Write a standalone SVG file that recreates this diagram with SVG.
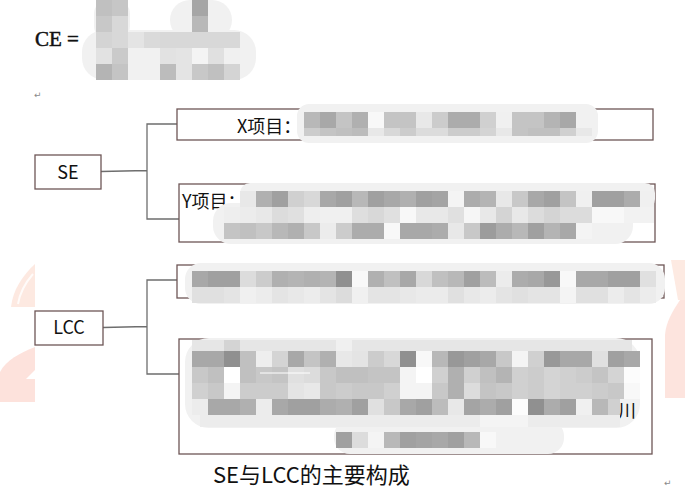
<svg xmlns="http://www.w3.org/2000/svg" width="685" height="491" viewBox="0 0 685 491">
<style>
.box{fill:#fff;stroke:#6e5656;stroke-width:1.3}
.conn{fill:none;stroke:#6e6e6e;stroke-width:1.3}
.lbl{font-family:"Noto Sans CJK SC","Noto Sans",sans-serif;font-size:18px;fill:#111}
.blob{fill:#f1f1f1}
.ret{font-family:"DejaVu Sans",sans-serif;font-size:9px;fill:#8a8a8a}
</style>
<rect width="685" height="491" fill="#fff"/>
<g id="watermark">
<path d="M11 307 C13 290 22 276 35 264 L35 307 Z" fill="#fde9e1"/>
<path d="M18 304 C20 292 26 282 33 274" fill="none" stroke="#fff" stroke-width="2" opacity="0.8"/>
<path d="M0 372 C6 360 20 353 35 347 L35 402 L0 402 Z" fill="#fde2dc"/>
<path d="M26 379 L35 370 L35 379 Z" fill="#fff"/>
<path d="M671 260 L685 260 L685 300 L678 300 Z" fill="#fdeae2"/>
<path d="M680 300 C672 312 666 322 665 335 L665 398 L685 398 L685 300 Z" fill="#fde4de"/>
</g>
<g id="ce-formula">
<text x="35" y="46" font-family="Liberation Serif,serif" font-size="21" fill="#111" stroke="#111" stroke-width="0.5">CE =</text>
<g id="ce-mosaic">
<rect class="blob" x="82" y="30" width="174" height="50" rx="22"/>
<rect class="blob" x="94" y="0" width="36" height="40" rx="14"/>
<rect class="blob" x="170" y="0" width="62" height="40" rx="20"/>
<rect x="96" y="0" width="16" height="16" fill="#c0c0c0"/><rect x="112" y="0" width="16" height="16" fill="#c6c6c6"/><rect x="192" y="0" width="16" height="16" fill="#a6a6a6"/>
<rect x="96" y="16" width="16" height="16" fill="#c8c8c8"/><rect x="112" y="16" width="16" height="16" fill="#d8d8d8"/><rect x="192" y="16" width="16" height="16" fill="#b8b8b8"/>
<rect x="96" y="32" width="16" height="16" fill="#d4d4d4"/><rect x="112" y="32" width="16" height="16" fill="#d8d8d8"/><rect x="128" y="32" width="16" height="16" fill="#e4e4e4"/><rect x="144" y="32" width="16" height="16" fill="#dadada"/><rect x="160" y="32" width="80" height="16" fill="#d8d8d8"/>
<rect x="96" y="48" width="16" height="16" fill="#e2e2e2"/><rect x="112" y="48" width="16" height="16" fill="#cacaca"/><rect x="160" y="48" width="16" height="16" fill="#e2e2e2"/><rect x="176" y="48" width="16" height="16" fill="#e4e4e4"/><rect x="192" y="48" width="16" height="16" fill="#f4f4f4"/><rect x="208" y="48" width="16" height="16" fill="#e0e0e0"/><rect x="224" y="48" width="16" height="16" fill="#f0f0f0"/>
<rect x="96" y="64" width="16" height="16" fill="#b4b4b4"/><rect x="112" y="64" width="16" height="16" fill="#c4c4c4"/><rect x="160" y="64" width="16" height="16" fill="#bcbcbc"/><rect x="176" y="64" width="16" height="16" fill="#e4e4e4"/><rect x="192" y="64" width="16" height="16" fill="#c8c8c8"/><rect x="208" y="64" width="16" height="16" fill="#c0c0c0"/><rect x="224" y="64" width="16" height="16" fill="#d4d4d4"/>
</g>
<text class="ret" x="34" y="98">↵</text>
</g>
<g id="connectors">
<path class="conn" d="M101 171.5 L147 170.5 M177 124 H147 V219 H179"/>
<path class="conn" d="M103 327.5 L147 326.5 M177 280 H147 V374 H179"/>
</g>
<g id="node-se">
<rect class="box" x="35" y="155" width="66" height="34"/>
<text class="lbl" x="68" y="179" text-anchor="middle">SE</text>
</g>
<g id="node-x">
<rect class="box" x="177" y="109" width="476" height="31"/>
<text class="lbl" x="237" y="133">X项目：</text>
<rect class="blob" x="297" y="104" width="301" height="39" rx="12"/>
<rect x="304" y="112" width="16" height="16" fill="#b8b8b8"/><rect x="320" y="112" width="16" height="16" fill="#a8a8a8"/><rect x="336" y="112" width="16" height="16" fill="#c4c4c4"/><rect x="352" y="112" width="16" height="16" fill="#b0b0b0"/><rect x="368" y="112" width="16" height="16" fill="#f8f8f8"/><rect x="384" y="112" width="32" height="16" fill="#c4c4c4"/><rect x="416" y="112" width="16" height="16" fill="#e8e8e8"/><rect x="432" y="112" width="16" height="16" fill="#cccccc"/><rect x="448" y="112" width="32" height="16" fill="#acacac"/><rect x="480" y="112" width="16" height="16" fill="#d0d0d0"/><rect x="496" y="112" width="16" height="16" fill="#f0f0f0"/><rect x="512" y="112" width="32" height="16" fill="#c4c4c4"/><rect x="544" y="112" width="16" height="16" fill="#b4b4b4"/><rect x="560" y="112" width="16" height="16" fill="#a8a8a8"/>
<rect x="304" y="128" width="16" height="8" fill="#cccccc"/><rect x="320" y="128" width="16" height="8" fill="#c4c4c4"/><rect x="336" y="128" width="16" height="8" fill="#c0c0c0"/><rect x="352" y="128" width="16" height="8" fill="#bcbcbc"/><rect x="368" y="128" width="16" height="8" fill="#e8e8e8"/><rect x="384" y="128" width="16" height="8" fill="#d8d8d8"/><rect x="400" y="128" width="16" height="8" fill="#cccccc"/><rect x="416" y="128" width="32" height="8" fill="#dcdcdc"/><rect x="448" y="128" width="32" height="8" fill="#cccccc"/><rect x="480" y="128" width="16" height="8" fill="#d4d4d4"/><rect x="496" y="128" width="16" height="8" fill="#e8e8e8"/><rect x="512" y="128" width="16" height="8" fill="#c4c4c4"/><rect x="528" y="128" width="32" height="8" fill="#c0c0c0"/><rect x="560" y="128" width="16" height="8" fill="#d0d0d0"/><rect x="576" y="128" width="16" height="8" fill="#e8e8e8"/>
</g>
<g id="node-y">
<rect class="box" x="179" y="184" width="476" height="58"/>
<text class="lbl" x="182" y="208">Y项目：</text>
<rect class="blob" x="240" y="183" width="415" height="26" rx="10"/>
<rect class="blob" x="213" y="203" width="420" height="41" rx="18"/>
<rect x="240" y="191" width="16" height="16" fill="#e8e8e8"/><rect x="256" y="191" width="16" height="16" fill="#b0b0b0"/><rect x="272" y="191" width="16" height="16" fill="#a0a0a0"/><rect x="288" y="191" width="16" height="16" fill="#d0d0d0"/><rect x="304" y="191" width="16" height="16" fill="#d8d8d8"/><rect x="320" y="191" width="16" height="16" fill="#a8a8a8"/><rect x="336" y="191" width="16" height="16" fill="#a0a0a0"/><rect x="352" y="191" width="16" height="16" fill="#b8b8b8"/><rect x="368" y="191" width="16" height="16" fill="#a0a0a0"/><rect x="384" y="191" width="16" height="16" fill="#a8a8a8"/><rect x="400" y="191" width="16" height="16" fill="#b0b0b0"/><rect x="416" y="191" width="16" height="16" fill="#a0a0a0"/><rect x="432" y="191" width="16" height="16" fill="#a4a4a4"/><rect x="448" y="191" width="16" height="16" fill="#f4f4f4"/><rect x="464" y="191" width="16" height="16" fill="#acacac"/><rect x="480" y="191" width="16" height="16" fill="#b4b4b4"/><rect x="496" y="191" width="16" height="16" fill="#e8e8e8"/><rect x="512" y="191" width="16" height="16" fill="#c8c8c8"/><rect x="528" y="191" width="16" height="16" fill="#a8a8a8"/><rect x="544" y="191" width="16" height="16" fill="#a0a0a0"/><rect x="560" y="191" width="16" height="16" fill="#c4c4c4"/><rect x="576" y="191" width="16" height="16" fill="#f0f0f0"/><rect x="592" y="191" width="32" height="16" fill="#a0a0a0"/><rect x="624" y="191" width="16" height="16" fill="#acacac"/><rect x="640" y="191" width="14" height="16" fill="#f0f0f0"/>
<rect x="224" y="207" width="16" height="16" fill="#eeeeee"/><rect x="240" y="207" width="16" height="16" fill="#ececec"/><rect x="256" y="207" width="16" height="16" fill="#e8e8e8"/><rect x="272" y="207" width="16" height="16" fill="#dcdcdc"/><rect x="288" y="207" width="16" height="16" fill="#e0e0e0"/><rect x="304" y="207" width="16" height="16" fill="#eeeeee"/><rect x="320" y="207" width="32" height="16" fill="#f0f0f0"/><rect x="352" y="207" width="16" height="16" fill="#dedede"/><rect x="368" y="207" width="16" height="16" fill="#d8d8d8"/><rect x="384" y="207" width="16" height="16" fill="#e0e0e0"/><rect x="400" y="207" width="16" height="16" fill="#f8f8f8"/><rect x="416" y="207" width="32" height="16" fill="#e8e8e8"/><rect x="448" y="207" width="16" height="16" fill="#e0e0e0"/><rect x="464" y="207" width="16" height="16" fill="#f6f6f6"/><rect x="480" y="207" width="16" height="16" fill="#e8e8e8"/><rect x="496" y="207" width="16" height="16" fill="#d4d4d4"/><rect x="512" y="207" width="16" height="16" fill="#e8e8e8"/><rect x="528" y="207" width="16" height="16" fill="#dcdcdc"/><rect x="544" y="207" width="16" height="16" fill="#d4d4d4"/><rect x="560" y="207" width="32" height="16" fill="#dcdcdc"/><rect x="592" y="207" width="32" height="16" fill="#f8f8f8"/><rect x="624" y="207" width="30" height="16" fill="#f2f2f2"/>
<rect x="224" y="223" width="16" height="16" fill="#c4c4c4"/><rect x="240" y="223" width="16" height="16" fill="#c0c0c0"/><rect x="256" y="223" width="16" height="16" fill="#c8c8c8"/><rect x="272" y="223" width="16" height="16" fill="#b8b8b8"/><rect x="288" y="223" width="16" height="16" fill="#b0b0b0"/><rect x="304" y="223" width="16" height="16" fill="#c8c8c8"/><rect x="320" y="223" width="16" height="16" fill="#ececec"/><rect x="336" y="223" width="16" height="16" fill="#cccccc"/><rect x="352" y="223" width="32" height="16" fill="#acacac"/><rect x="384" y="223" width="16" height="16" fill="#f8f8f8"/><rect x="400" y="223" width="32" height="16" fill="#a8a8a8"/><rect x="432" y="223" width="16" height="16" fill="#acacac"/><rect x="448" y="223" width="16" height="16" fill="#e8e8e8"/><rect x="464" y="223" width="16" height="16" fill="#c8c8c8"/><rect x="480" y="223" width="16" height="16" fill="#9c9c9c"/><rect x="496" y="223" width="16" height="16" fill="#acacac"/><rect x="512" y="223" width="16" height="16" fill="#b8b8b8"/><rect x="528" y="223" width="16" height="16" fill="#a0a0a0"/><rect x="544" y="223" width="16" height="16" fill="#b4b4b4"/><rect x="560" y="223" width="16" height="16" fill="#a8a8a8"/><rect x="576" y="223" width="16" height="16" fill="#f4f4f4"/>
</g>
<g id="node-lcc">
<rect class="box" x="35" y="311" width="68" height="34"/>
<text class="lbl" x="69" y="334" text-anchor="middle">LCC</text>
</g>
<g id="node-lcc-1">
<rect class="box" x="177" y="265" width="487" height="33"/>
<rect class="blob" x="185" y="263" width="480" height="41" rx="16"/>
<rect x="192" y="271" width="16" height="16" fill="#a8a8a8"/><rect x="208" y="271" width="32" height="16" fill="#a0a0a0"/><rect x="240" y="271" width="16" height="16" fill="#dcdcdc"/><rect x="256" y="271" width="16" height="16" fill="#cccccc"/><rect x="272" y="271" width="16" height="16" fill="#b0b0b0"/><rect x="288" y="271" width="16" height="16" fill="#b4b4b4"/><rect x="304" y="271" width="16" height="16" fill="#b0b0b0"/><rect x="320" y="271" width="16" height="16" fill="#b4b4b4"/><rect x="336" y="271" width="16" height="16" fill="#909090"/><rect x="352" y="271" width="16" height="16" fill="#f8f8f8"/><rect x="368" y="271" width="16" height="16" fill="#b0b0b0"/><rect x="384" y="271" width="16" height="16" fill="#c0c0c0"/><rect x="400" y="271" width="16" height="16" fill="#a8a8a8"/><rect x="416" y="271" width="16" height="16" fill="#d8d8d8"/><rect x="432" y="271" width="16" height="16" fill="#c0c0c0"/><rect x="448" y="271" width="16" height="16" fill="#b8b8b8"/><rect x="464" y="271" width="16" height="16" fill="#a0a0a0"/><rect x="480" y="271" width="16" height="16" fill="#bcbcbc"/><rect x="496" y="271" width="16" height="16" fill="#ececec"/><rect x="512" y="271" width="16" height="16" fill="#acacac"/><rect x="528" y="271" width="16" height="16" fill="#a8a8a8"/><rect x="544" y="271" width="16" height="16" fill="#989898"/><rect x="560" y="271" width="16" height="16" fill="#f8f8f8"/><rect x="576" y="271" width="32" height="16" fill="#a8a8a8"/><rect x="608" y="271" width="32" height="16" fill="#a0a0a0"/><rect x="640" y="271" width="16" height="16" fill="#e0e0e0"/>
<rect x="192" y="287" width="32" height="16" fill="#e0e0e0"/><rect x="224" y="287" width="16" height="16" fill="#e4e4e4"/><rect x="240" y="287" width="16" height="16" fill="#f0f0f0"/><rect x="256" y="287" width="16" height="16" fill="#ececec"/><rect x="272" y="287" width="16" height="16" fill="#e4e4e4"/><rect x="288" y="287" width="16" height="16" fill="#e8e8e8"/><rect x="304" y="287" width="16" height="16" fill="#ececec"/><rect x="320" y="287" width="16" height="16" fill="#e4e4e4"/><rect x="336" y="287" width="16" height="16" fill="#dcdcdc"/><rect x="352" y="287" width="16" height="16" fill="#f0f0f0"/><rect x="368" y="287" width="32" height="16" fill="#e4e4e4"/><rect x="400" y="287" width="16" height="16" fill="#e8e8e8"/><rect x="416" y="287" width="32" height="16" fill="#ebebeb"/><rect x="448" y="287" width="16" height="16" fill="#e0e0e0"/><rect x="464" y="287" width="16" height="16" fill="#e8e8e8"/><rect x="480" y="287" width="16" height="16" fill="#ececec"/><rect x="496" y="287" width="16" height="16" fill="#e4e4e4"/><rect x="512" y="287" width="16" height="16" fill="#e0e0e0"/><rect x="528" y="287" width="32" height="16" fill="#e4e4e4"/><rect x="560" y="287" width="16" height="16" fill="#f4f4f4"/><rect x="576" y="287" width="32" height="16" fill="#e0e0e0"/><rect x="608" y="287" width="16" height="16" fill="#ececec"/><rect x="624" y="287" width="16" height="16" fill="#e4e4e4"/><rect x="640" y="287" width="16" height="16" fill="#ececec"/>
</g>
<g id="node-lcc-2">
<rect class="box" x="179" y="339" width="473" height="115"/>
<rect class="blob" x="185" y="338" width="455" height="90" rx="24"/>
<rect class="blob" x="334" y="420" width="230" height="34" rx="16"/>
<rect x="192" y="340" width="440" height="11" fill="#e6e6e6"/><rect x="224" y="340" width="16" height="11" fill="#d4d4d4"/><rect x="336" y="340" width="16" height="11" fill="#f0f0f0"/>
<rect x="192" y="351" width="32" height="16" fill="#a8a8a8"/><rect x="224" y="351" width="16" height="16" fill="#909090"/><rect x="240" y="351" width="16" height="16" fill="#c0c0c0"/><rect x="256" y="351" width="16" height="16" fill="#eeeeee"/><rect x="272" y="351" width="16" height="16" fill="#d4d4d4"/><rect x="288" y="351" width="16" height="16" fill="#a8a8a8"/><rect x="304" y="351" width="16" height="16" fill="#c4c4c4"/><rect x="320" y="351" width="16" height="16" fill="#b0b0b0"/><rect x="336" y="351" width="16" height="16" fill="#e8e8e8"/><rect x="352" y="351" width="16" height="16" fill="#e4e4e4"/><rect x="368" y="351" width="16" height="16" fill="#cccccc"/><rect x="384" y="351" width="16" height="16" fill="#d8d8d8"/><rect x="400" y="351" width="16" height="16" fill="#909090"/><rect x="416" y="351" width="16" height="16" fill="#f8f8f8"/><rect x="432" y="351" width="16" height="16" fill="#b8b8b8"/><rect x="448" y="351" width="16" height="16" fill="#989898"/><rect x="464" y="351" width="16" height="16" fill="#a0a0a0"/><rect x="480" y="351" width="16" height="16" fill="#a8a8a8"/><rect x="496" y="351" width="16" height="16" fill="#c8c8c8"/><rect x="512" y="351" width="16" height="16" fill="#f4f4f4"/><rect x="528" y="351" width="16" height="16" fill="#d0d0d0"/><rect x="544" y="351" width="16" height="16" fill="#989898"/><rect x="560" y="351" width="32" height="16" fill="#a8a8a8"/><rect x="592" y="351" width="16" height="16" fill="#e0e0e0"/><rect x="608" y="351" width="16" height="16" fill="#a0a0a0"/><rect x="624" y="351" width="16" height="16" fill="#a8a8a8"/>
<rect x="192" y="367" width="16" height="16" fill="#c8c8c8"/><rect x="208" y="367" width="16" height="16" fill="#c0c0c0"/><rect x="224" y="367" width="16" height="16" fill="#ffffff"/><rect x="240" y="367" width="16" height="16" fill="#c0c0c0"/><rect x="256" y="367" width="16" height="16" fill="#c8c8c8"/><rect x="272" y="367" width="16" height="16" fill="#c4c4c4"/><rect x="288" y="367" width="16" height="16" fill="#e0e0e0"/><rect x="304" y="367" width="16" height="16" fill="#dcdcdc"/><rect x="320" y="367" width="16" height="16" fill="#c8c8c8"/><rect x="336" y="367" width="32" height="16" fill="#c0c0c0"/><rect x="368" y="367" width="32" height="16" fill="#c4c4c4"/><rect x="400" y="367" width="16" height="16" fill="#f4f4f4"/><rect x="416" y="367" width="16" height="16" fill="#ffffff"/><rect x="432" y="367" width="16" height="16" fill="#d0d0d0"/><rect x="448" y="367" width="16" height="16" fill="#b0b0b0"/><rect x="464" y="367" width="16" height="16" fill="#d0d0d0"/><rect x="480" y="367" width="16" height="16" fill="#c0c0c0"/><rect x="496" y="367" width="16" height="16" fill="#b4b4b4"/><rect x="512" y="367" width="16" height="16" fill="#d0d0d0"/><rect x="528" y="367" width="16" height="16" fill="#cccccc"/><rect x="544" y="367" width="16" height="16" fill="#d4d4d4"/><rect x="560" y="367" width="16" height="16" fill="#d0d0d0"/><rect x="576" y="367" width="16" height="16" fill="#cccccc"/><rect x="592" y="367" width="16" height="16" fill="#c4c4c4"/><rect x="608" y="367" width="16" height="16" fill="#d4d4d4"/><rect x="624" y="367" width="16" height="16" fill="#fcfcfc"/>
<line x1="260" y1="373" x2="310" y2="373" stroke="#fff" stroke-width="1"/>
<rect x="192" y="383" width="16" height="16" fill="#d0d0d0"/><rect x="208" y="383" width="16" height="16" fill="#c8c8c8"/><rect x="224" y="383" width="16" height="16" fill="#f4f4f4"/><rect x="240" y="383" width="48" height="16" fill="#cccccc"/><rect x="288" y="383" width="16" height="16" fill="#e4e4e4"/><rect x="304" y="383" width="16" height="16" fill="#e8e8e8"/><rect x="320" y="383" width="16" height="16" fill="#c8c8c8"/><rect x="336" y="383" width="16" height="16" fill="#cccccc"/><rect x="352" y="383" width="32" height="16" fill="#c8c8c8"/><rect x="384" y="383" width="16" height="16" fill="#d0d0d0"/><rect x="400" y="383" width="32" height="16" fill="#f4f4f4"/><rect x="432" y="383" width="16" height="16" fill="#c8c8c8"/><rect x="448" y="383" width="16" height="16" fill="#b0b0b0"/><rect x="464" y="383" width="16" height="16" fill="#dcdcdc"/><rect x="480" y="383" width="16" height="16" fill="#c4c4c4"/><rect x="496" y="383" width="16" height="16" fill="#c8c8c8"/><rect x="512" y="383" width="16" height="16" fill="#d0d0d0"/><rect x="528" y="383" width="16" height="16" fill="#cccccc"/><rect x="544" y="383" width="16" height="16" fill="#d4d4d4"/><rect x="560" y="383" width="32" height="16" fill="#d0d0d0"/><rect x="592" y="383" width="16" height="16" fill="#cccccc"/><rect x="608" y="383" width="16" height="16" fill="#c8c8c8"/><rect x="624" y="383" width="16" height="16" fill="#f8f8f8"/>
<rect x="192" y="399" width="16" height="16" fill="#ececec"/><rect x="208" y="399" width="32" height="16" fill="#a8a8a8"/><rect x="240" y="399" width="16" height="16" fill="#b0b0b0"/><rect x="256" y="399" width="16" height="16" fill="#ececec"/><rect x="272" y="399" width="16" height="16" fill="#a8a8a8"/><rect x="288" y="399" width="32" height="16" fill="#a0a0a0"/><rect x="320" y="399" width="16" height="16" fill="#acacac"/><rect x="336" y="399" width="16" height="16" fill="#b0b0b0"/><rect x="352" y="399" width="16" height="16" fill="#a0a0a0"/><rect x="368" y="399" width="16" height="16" fill="#e0e0e0"/><rect x="384" y="399" width="16" height="16" fill="#c8c8c8"/><rect x="400" y="399" width="16" height="16" fill="#a8a8a8"/><rect x="416" y="399" width="16" height="16" fill="#a0a0a0"/><rect x="432" y="399" width="16" height="16" fill="#bcbcbc"/><rect x="448" y="399" width="16" height="16" fill="#e8e8e8"/><rect x="464" y="399" width="16" height="16" fill="#a4a4a4"/><rect x="480" y="399" width="16" height="16" fill="#acacac"/><rect x="496" y="399" width="16" height="16" fill="#a0a0a0"/><rect x="512" y="399" width="16" height="16" fill="#fcfcfc"/><rect x="528" y="399" width="16" height="16" fill="#909090"/><rect x="544" y="399" width="16" height="16" fill="#acacac"/><rect x="560" y="399" width="16" height="16" fill="#a0a0a0"/><rect x="576" y="399" width="16" height="16" fill="#f0f0f0"/><rect x="592" y="399" width="16" height="16" fill="#b8b8b8"/><rect x="608" y="399" width="12" height="16" fill="#d0d0d0"/>
<text class="lbl" x="618" y="417" font-size="16">川</text>
<rect x="200" y="415" width="420" height="12" fill="#ececec"/><rect x="480" y="415" width="48" height="12" fill="#f4f4f4"/>
<rect x="336" y="432" width="16" height="16" fill="#a0a0a0"/><rect x="352" y="432" width="16" height="16" fill="#dcdcdc"/><rect x="368" y="432" width="16" height="16" fill="#f4f4f4"/><rect x="384" y="432" width="16" height="16" fill="#b8b8b8"/><rect x="400" y="432" width="16" height="16" fill="#a0a0a0"/><rect x="416" y="432" width="16" height="16" fill="#a4a4a4"/><rect x="432" y="432" width="16" height="16" fill="#a8a8a8"/><rect x="448" y="432" width="16" height="16" fill="#a0a0a0"/><rect x="464" y="432" width="16" height="16" fill="#b8b8b8"/><rect x="480" y="432" width="16" height="16" fill="#f8f8f8"/>
</g>
<g id="caption">
<text x="213" y="483" font-family="Noto Sans CJK SC,Noto Sans,sans-serif" font-size="22" fill="#111">SE与LCC的主要构成</text>
<text class="ret" x="664" y="486">↵</text>
</g>
</svg>
